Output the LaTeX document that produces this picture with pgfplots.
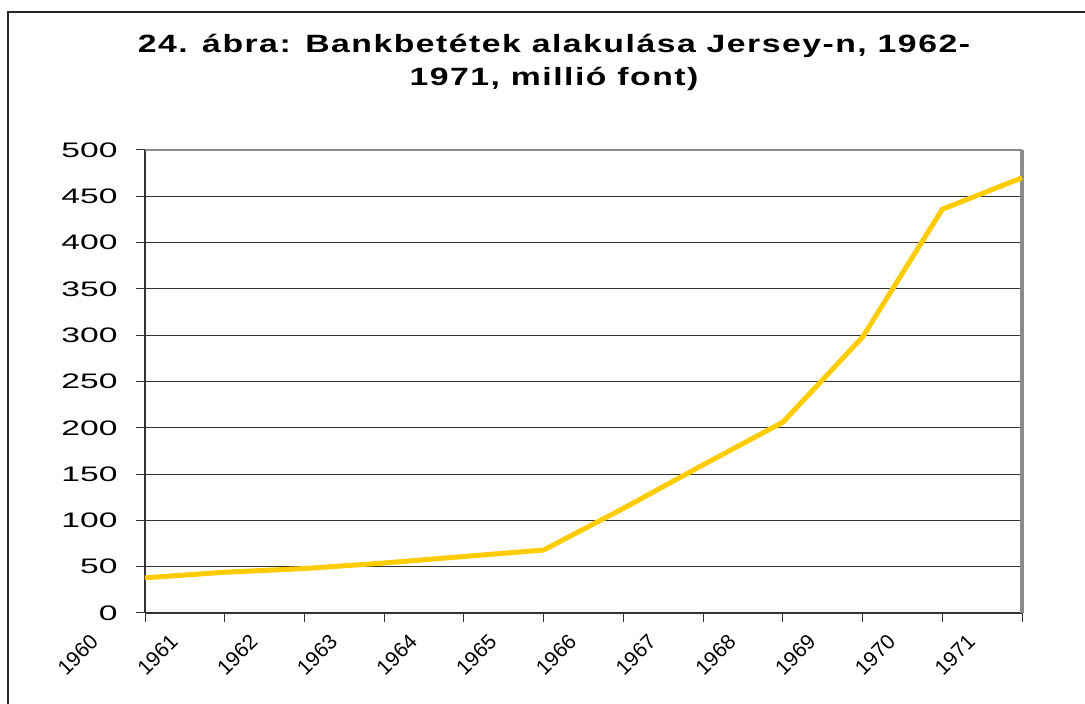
\documentclass[border=0pt]{standalone}
\usepackage{fontspec}
\setmainfont{Liberation Sans}
\newfontfamily\wideFont[FakeStretch=1.6]{Liberation Sans}
\newfontfamily\titleFont[FakeStretch=1.35,LetterSpace=6]{Liberation Sans}
\usepackage{pgfplots}
\pgfplotsset{compat=1.18}
\definecolor{gold}{HTML}{FFCC00}
\begin{document}
\begin{tikzpicture}[x=1pt,y=1pt]
\path[use as bounding box] (0,0) rectangle (1085,704);
\draw[line width=2pt, black!85] (8,0) -- (8,692) -- (1085,692);
\node[align=center, font=\titleFont\bfseries\fontsize{25}{33}\selectfont] at (554,642) {24. ábra: Bankbetétek alakulása Jersey-n, 1962-\\1971, millió font)};
\begin{axis}[
  at={(145pt,91pt)}, anchor=south west,
  width=877pt, height=463pt, scale only axis,
  xmin=0, xmax=11, ymin=0, ymax=500,
  xtick={0,1,...,11},
  xticklabels={1960,1961,1962,1963,1964,1965,1966,1967,1968,1969,1970,1971},
  ytick={0,50,...,500},
  /pgf/number format/assume math mode=true,
  axis x line*=bottom, axis y line*=left,
  axis line style={-, line width=1.5pt, black!80},
  tick align=outside, major tick length=9pt,
  tick style={line width=1pt, black!80},
  ymajorgrids, major grid style={line width=1pt, black!80},
  yticklabel style={font=\wideFont\fontsize{21}{21}\selectfont, xshift=-15pt},
  xticklabel style={font=\fontsize{21}{21}\selectfont, xshift=-56pt, yshift=-6pt, rotate=45, anchor=north east},
  clip=false,
]
\draw[line width=3.5pt, black!45] (rel axis cs:1,0) -- (rel axis cs:1,1);
\draw[line width=1.5pt, black!45] (rel axis cs:0,1) -- (rel axis cs:1,1);
\addplot[gold, line width=5pt] coordinates {(0,38)(1,44)(2,48)(3,54)(4,61)(5,68)(6,113)(7,160)(8,206)(9,298)(10,436)(11,470)};
\end{axis}
\end{tikzpicture}
\end{document}
